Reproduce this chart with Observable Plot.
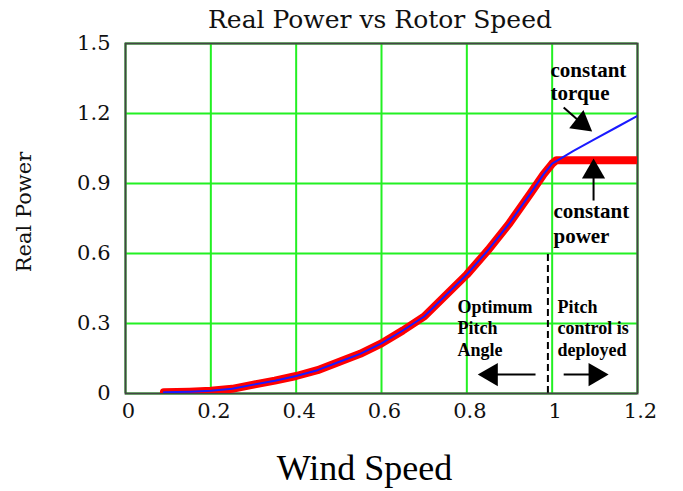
<!DOCTYPE html>
<html><head><meta charset="utf-8">
<script src="https://cdn.jsdelivr.net/npm/d3@7"></script>
<script src="https://cdn.jsdelivr.net/npm/@observablehq/plot@0.6"></script>
<style>body{margin:0;background:#fff}</style>
</head><body><div id="chart"></div>
<script>
const title = "Real Power vs Rotor Speed";
const xLabel = "Wind Speed";
const yLabel = "Real Power";
const xTicks = [0, 0.2, 0.4, 0.6, 0.8, 1, 1.2];
const yTicks = [0, 0.3, 0.6, 0.9, 1.2, 1.5];

// blue curve (thin): power vs speed, constant torque beyond rated
const speedBlue = [0.09, 0.15, 0.2, 0.25, 0.3, 0.35, 0.4, 0.45, 0.5, 0.55, 0.6, 0.65, 0.7, 0.75, 0.8, 0.85, 0.9, 0.95, 0.98, 1.0, 1.05, 1.1, 1.15, 1.2];
const powerBlue = [0.005, 0.008, 0.012, 0.02, 0.038, 0.055, 0.075, 0.1, 0.135, 0.17, 0.215, 0.27, 0.33, 0.42, 0.51, 0.615, 0.73, 0.86, 0.94, 0.985, 1.04, 1.09, 1.14, 1.19];
// red curve (thick): constant power beyond rated
const speedRed = [0.09, 0.15, 0.2, 0.25, 0.3, 0.35, 0.4, 0.45, 0.5, 0.55, 0.6, 0.65, 0.7, 0.75, 0.8, 0.85, 0.9, 0.95, 0.98, 1.0, 1.01, 1.2];
const powerRed = [0.005, 0.008, 0.012, 0.02, 0.038, 0.055, 0.075, 0.1, 0.135, 0.17, 0.215, 0.27, 0.33, 0.42, 0.51, 0.615, 0.73, 0.86, 0.94, 0.985, 1.0, 1.0];

// dashed boundary at rated speed
const boundaryX = [0.99];
const boundaryTop = 0.6;

// annotation text lines
const noteText = ["constant", "torque", "constant", "power", "Optimum", "Pitch", "Angle", "Pitch", "control is", "deployed"];
const noteX = [0.996, 0.996, 1.003, 1.003, 0.778, 0.778, 0.778, 1.0125, 1.0125, 1.0125];
const noteY = [1.384, 1.286, 0.78, 0.673, 0.369, 0.279, 0.184, 0.369, 0.279, 0.184];
const noteSize = [21, 21, 21, 21, 18, 18, 18, 18, 18, 18];

// arrows: shaft tail -> head center, head rotation
const arrowX1 = [1.027, 1.097, 0.961, 1.027];
const arrowY1 = [1.226, 0.827, 0.081, 0.081];
const arrowX2 = [1.069, 1.097, 0.857, 1.101];
const arrowY2 = [1.158, 0.950, 0.081, 0.081];
const arrowRotate = [128, 0, 270, 90];

const blue = speedBlue.map((s, i) => ({s, p: powerBlue[i]}));
const red = speedRed.map((s, i) => ({s, p: powerRed[i]}));
const notes = noteText.map((t, i) => ({t, x: noteX[i], y: noteY[i], f: noteSize[i]}));
const arrows = arrowX1.map((x1, i) => ({x1, y1: arrowY1[i], x2: arrowX2[i], y2: arrowY2[i], r: arrowRotate[i]}));

const gridColor = "#22f022";
const axisFont = "DejaVu Serif";

const chart = Plot.plot({
  width: 683,
  height: 491,
  marginLeft: 125,
  marginRight: 46,
  marginTop: 43,
  marginBottom: 98,
  style: {fontFamily: axisFont, background: "#fff", color: "#111"},
  x: {domain: [0, 1.2]},
  y: {domain: [0, 1.5]},
  marks: [
    Plot.gridX(xTicks, {stroke: gridColor, strokeOpacity: 1, strokeWidth: 2}),
    Plot.gridY(yTicks, {stroke: gridColor, strokeOpacity: 1, strokeWidth: 2}),
    Plot.axisX(xTicks, {tickSize: 0, tickPadding: 10, dx: 3, fontSize: 21, tickFormat: d => String(d), label: null, fontFamily: axisFont}),
    Plot.axisY(yTicks, {tickSize: 0, tickPadding: 15, fontSize: 21, tickFormat: d => String(d), label: null, fontFamily: axisFont}),
    Plot.ruleX(boundaryX, {y1: 0, y2: boundaryTop, stroke: "#000", strokeWidth: 2, strokeDasharray: "7,4"}),
    Plot.frame({stroke: "#444", strokeWidth: 2}),
    Plot.line(red, {x: "s", y: "p", stroke: "#ff0000", strokeWidth: 8, curve: "linear", clip: true}),
    Plot.line(blue, {x: "s", y: "p", stroke: "#1a1aff", strokeWidth: 2, curve: "linear", clip: true}),
    Plot.link(arrows, {x1: "x1", y1: "y1", x2: "x2", y2: "y2", stroke: "#000", strokeWidth: 2}),
    Plot.dot(arrows, {x: "x2", y: "y2", symbol: "triangle", r: 8.6, fill: "#000", stroke: "none", rotate: "r"}),
    Plot.text(notes.filter(d => d.f === 21), {x: "x", y: "y", text: "t", textAnchor: "start", fontFamily: "Liberation Serif", fontWeight: "bold", fontSize: 21, fill: "#000"}),
    Plot.text(notes.filter(d => d.f === 18), {x: "x", y: "y", text: "t", textAnchor: "start", fontFamily: "Liberation Serif", fontWeight: "bold", fontSize: 18, fill: "#000"}),
    Plot.text([title], {frameAnchor: "top", lineAnchor: "middle", dy: -24, dx: -1.5, fontSize: 25, fontFamily: axisFont, fill: "#111"}),
    Plot.text([yLabel], {frameAnchor: "left", textAnchor: "middle", lineAnchor: "middle", dx: -101, dy: -6.5, rotate: -90, fontSize: 21, fontFamily: axisFont, fill: "#111"}),
    Plot.text([xLabel], {frameAnchor: "bottom", lineAnchor: "middle", dy: 74.5, dx: -17, fontSize: 36, fontFamily: "Liberation Serif", fill: "#000"})
  ]
});
document.getElementById("chart").appendChild(chart);
</script>
</body></html>
